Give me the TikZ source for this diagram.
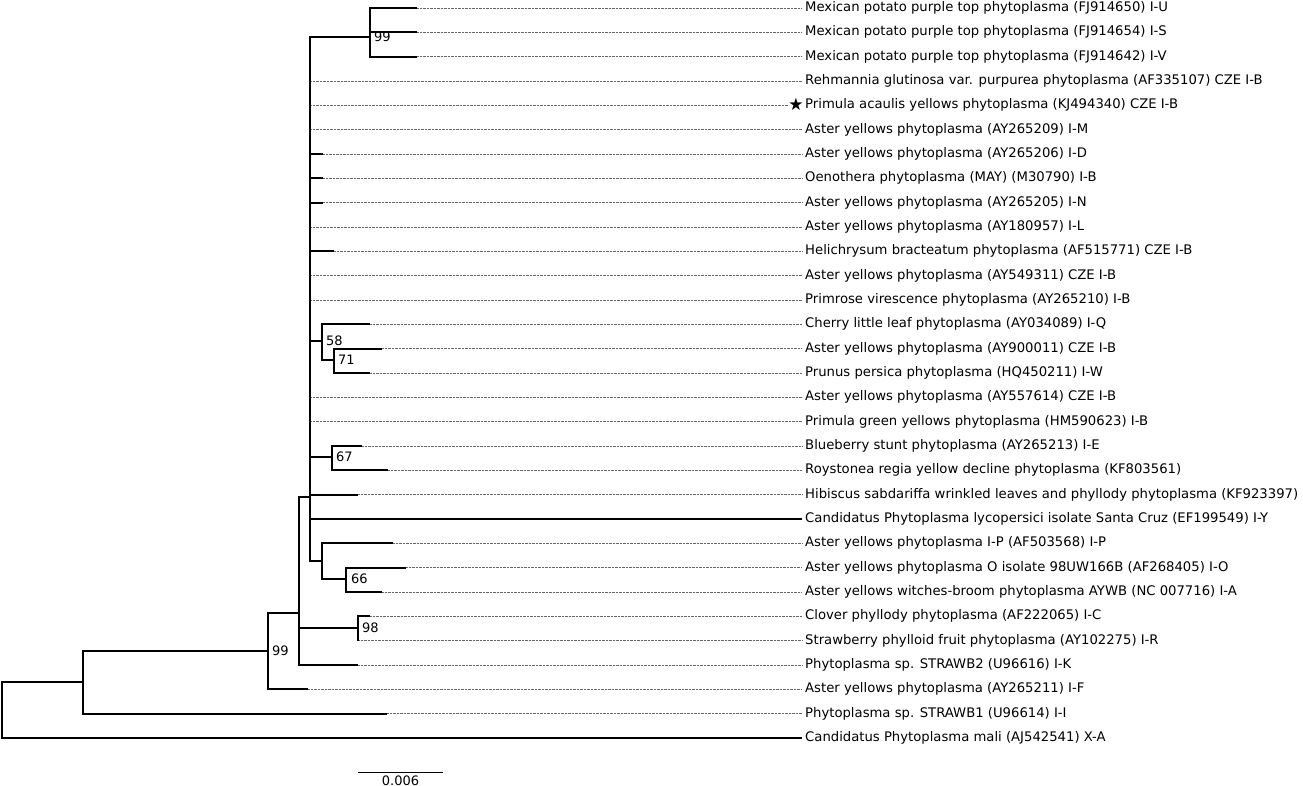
\documentclass[tikz,border=0pt]{standalone}
\usepackage{fontspec}
\setmainfont{DejaVu Sans}
\begin{document}
\begin{tikzpicture}[x=1pt,y=-1pt,
  br/.style={line width=2pt},
  lead/.style={draw=black!60,line width=0.6pt,dash pattern=on 0.7pt off 0.7pt},
  leaf/.style={anchor=west,inner xsep=3pt,inner ysep=0pt,font=\fontsize{13.2}{15}\selectfont},
  bs/.style={anchor=west,inner sep=0pt,font=\fontsize{13}{15}\selectfont},
  sbar/.style={line width=1pt}]
\useasboundingbox (0,0) rectangle (1303,786);
% leaf labels
\foreach \i/\t in {
 1/{Mexican potato purple top phytoplasma (FJ914650) I-U},
 2/{Mexican potato purple top phytoplasma (FJ914654) I-S},
 3/{Mexican potato purple top phytoplasma (FJ914642) I-V},
 4/{Rehmannia glutinosa var. purpurea phytoplasma (AF335107) CZE I-B},
 5/{Primula acaulis yellows phytoplasma (KJ494340) CZE I-B},
 6/{Aster yellows phytoplasma (AY265209) I-M},
 7/{Aster yellows phytoplasma (AY265206) I-D},
 8/{Oenothera phytoplasma (MAY) (M30790) I-B},
 9/{Aster yellows phytoplasma (AY265205) I-N},
 10/{Aster yellows phytoplasma (AY180957) I-L},
 11/{Helichrysum bracteatum phytoplasma (AF515771) CZE I-B},
 12/{Aster yellows phytoplasma (AY549311) CZE I-B},
 13/{Primrose virescence phytoplasma (AY265210) I-B},
 14/{Cherry little leaf phytoplasma (AY034089) I-Q},
 15/{Aster yellows phytoplasma (AY900011) CZE I-B},
 16/{Prunus persica phytoplasma (HQ450211) I-W},
 17/{Aster yellows phytoplasma (AY557614) CZE I-B},
 18/{Primula green yellows phytoplasma (HM590623) I-B},
 19/{Blueberry stunt phytoplasma (AY265213) I-E},
 20/{Roystonea regia yellow decline phytoplasma (KF803561)},
 21/{Hibiscus sabdariffa wrinkled leaves and phyllody phytoplasma (KF923397)},
 22/{Candidatus Phytoplasma lycopersici isolate Santa Cruz (EF199549) I-Y},
 23/{Aster yellows phytoplasma I-P (AF503568) I-P},
 24/{Aster yellows phytoplasma O isolate 98UW166B (AF268405) I-O},
 25/{Aster yellows witches-broom phytoplasma AYWB (NC 007716) I-A},
 26/{Clover phyllody phytoplasma (AF222065) I-C},
 27/{Strawberry phylloid fruit phytoplasma (AY102275) I-R},
 28/{Phytoplasma sp. STRAWB2 (U96616) I-K},
 29/{Aster yellows phytoplasma (AY265211) I-F},
 30/{Phytoplasma sp. STRAWB1 (U96614) I-I},
 31/{Candidatus Phytoplasma mali (AJ542541) X-A}}
 \node[leaf] (l\i) at (802,{8+24.33*(\i-1)}) {\t};
% branch ends
\foreach \i/\x in {1/417,2/417,3/417,4/310,5/310,6/310,7/323,8/323,9/323,10/310,
 11/334,12/310,13/310,14/370,15/382,16/370,17/310,18/310,19/362,20/388,
 21/358,22/802,23/393,24/406,25/382,26/370,27/358,28/358,29/308,30/387,31/802}
 \coordinate (e\i) at (\x,{8+24.33*(\i-1)});
% internal nodes
\coordinate (R) at (2,710);
\coordinate (A) at (83,682);
\coordinate (B) at (268,651);
\coordinate (C) at (299,613);
\coordinate (D) at (310,497);
\coordinate (M) at (370,37);
\coordinate (N58) at (322,341);
\coordinate (N71) at (334,360);
\coordinate (N67) at (332,457);
\coordinate (NP) at (322,561);
\coordinate (N66) at (346,579);
\coordinate (N98) at (358,628);
% star
\node[inner sep=0pt,font=\fontsize{17}{17}\selectfont] (star) at (796,104) {★};
% leaders
\foreach \i in {1,2,3,4,6,7,8,9,10,11,12,13,14,15,16,17,18,19,20,21,23,24,25,26,27,28,29,30}
 \draw[lead] (e\i) -- (l\i.west);
\draw[lead] (e5) -- (e5 -| star.west);
% branches
\draw[br] (R) |- (A) (R) |- (e31);
\draw[br] (A) |- (B) (A) |- (e30);
\draw[br] (B) |- (C) (B) |- (e29);
\draw[br] (C) |- (D) (C) |- (N98) (C) |- (e28);
\draw[br] (D) |- (M) (D) |- (N58) (D) |- (N67) (D) |- (NP);
\foreach \i in {4,5,6,7,8,9,10,11,12,13,17,18,21,22} \draw[br] (D) |- (e\i);
\draw[br] (M) |- (e1) (M) |- (e2) (M) |- (e3);
\draw[br] (N58) |- (e14) (N58) |- (N71);
\draw[br] (N71) |- (e15) (N71) |- (e16);
\draw[br] (N67) |- (e19) (N67) |- (e20);
\draw[br] (NP) |- (e23) (NP) |- (N66);
\draw[br] (N66) |- (e24) (N66) |- (e25);
\draw[br] (N98) |- (e26) (N98) |- (e27);
% bootstrap values
\node[bs] (bM) at ([xshift=4pt]M) {99};
\node[bs] (b58) at ([xshift=4pt]N58) {58};
\node[bs] (b71) at ([xshift=4pt]N71) {71};
\node[bs] (b67) at ([xshift=4pt]N67) {67};
\node[bs] (b66) at ([xshift=5pt]N66) {66};
\node[bs] (b98) at ([xshift=4pt]N98) {98};
\node[bs] (bB) at ([xshift=4pt]B) {99};
% scale bar
\coordinate (s1) at (358,772);
\coordinate (s2) at (443,772);
\draw[sbar] (s1) -- (s2) node[midway,below=3pt,inner sep=0pt,font=\fontsize{13}{15}\selectfont] (sl) {0.006};
\end{tikzpicture}
\end{document}
